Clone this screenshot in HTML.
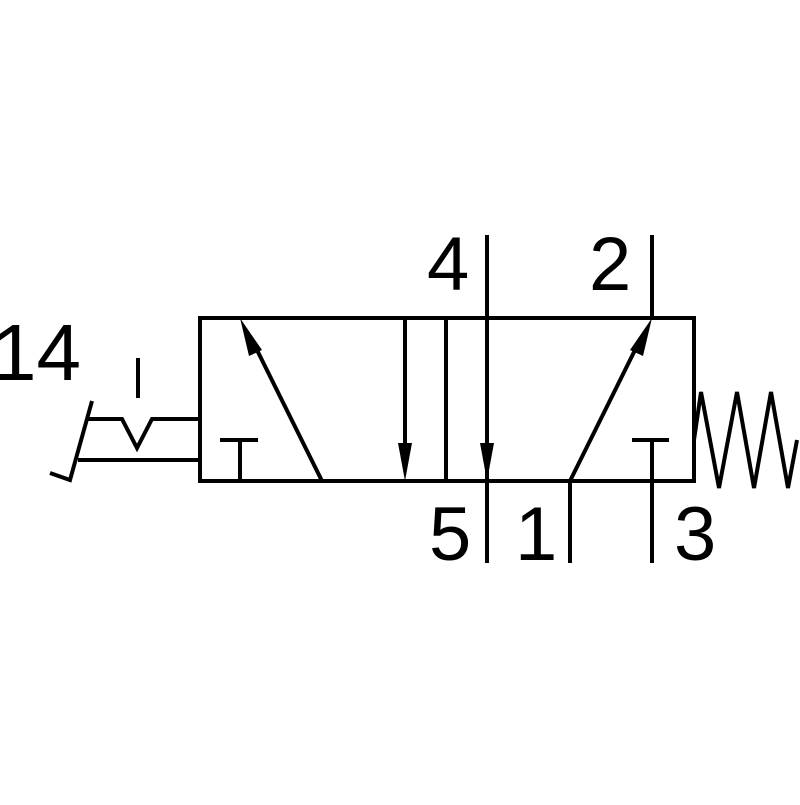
<!DOCTYPE html>
<html><head><style>html,body{margin:0;padding:0;background:#fff;}</style></head>
<body>
<svg width="800" height="800" viewBox="0 0 800 800" xmlns="http://www.w3.org/2000/svg">
<g stroke="#000" stroke-width="4" fill="none" stroke-linecap="butt">
<rect x="200" y="318" width="494" height="163"/>
<line x1="446" y1="318" x2="446" y2="481"/>
<line x1="487" y1="235" x2="487" y2="563"/>
<line x1="652" y1="235" x2="652" y2="318"/>
<line x1="570" y1="481" x2="570" y2="563"/>
<line x1="652" y1="440" x2="652" y2="563"/>
<line x1="632" y1="440" x2="669" y2="440"/>
<line x1="240" y1="440" x2="240" y2="481"/>
<line x1="220" y1="440" x2="258" y2="440"/>
<line x1="322" y1="481" x2="252" y2="340"/>
<line x1="405" y1="318" x2="405" y2="450"/>
<line x1="487" y1="318" x2="487" y2="450"/>
<line x1="570" y1="481" x2="640" y2="340"/>
<polyline points="694,440 701,392 719,488 737,392 754,488 771,392 788,488 797,440"/>
<polyline points="88,419 122,419 137,448 152,419 200,419"/>
<line x1="78" y1="460" x2="200" y2="460"/>
<polyline points="92,401 70,480 50,473"/>
<line x1="138" y1="358" x2="138" y2="398"/>
</g>
<g fill="#000">
<polygon points="398,443 412,443 405,481"/>
<polygon points="480,443 494,443 487,481"/>
<polygon points="240,318 262,350 249,356"/>
<polygon points="652,318 643,356 630,350"/>
</g>
<g font-family="Liberation Sans, sans-serif" font-size="76" fill="#000">
<text x="-8" y="380" font-size="80">14</text>
<text x="427" y="290">4</text>
<text x="589" y="290">2</text>
<text x="429" y="560">5</text>
<text x="515" y="560">1</text>
<text x="674" y="560">3</text>
</g>
</svg>
</body></html>
